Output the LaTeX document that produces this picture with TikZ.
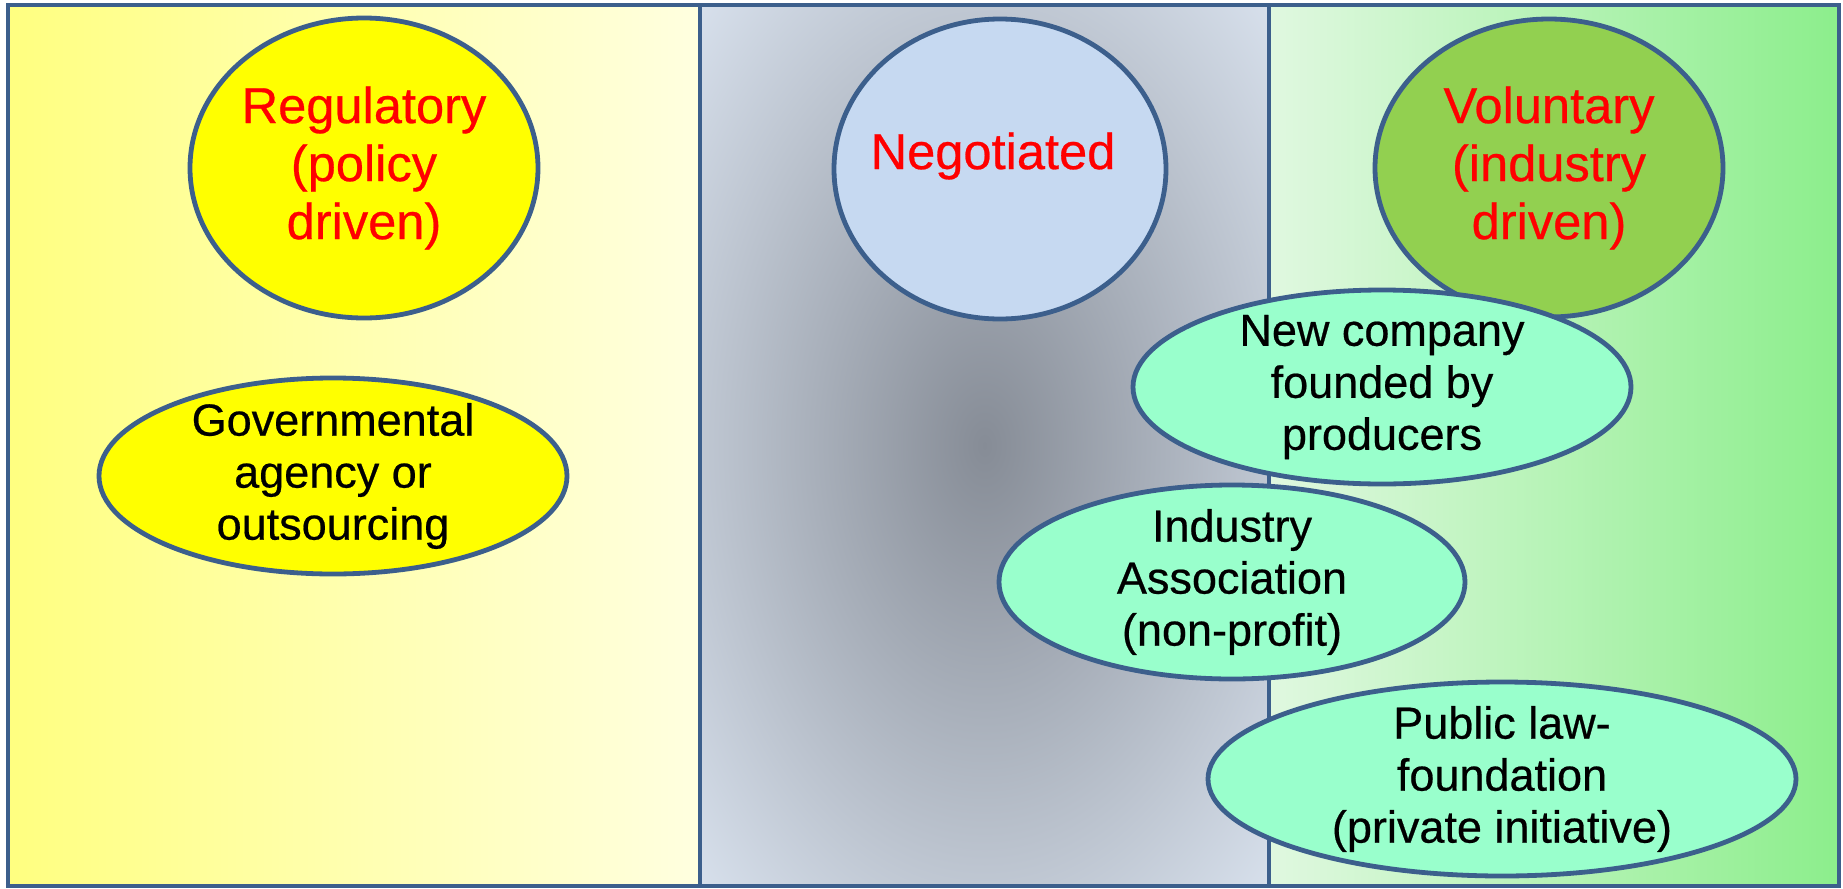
\documentclass[tikz,border=0pt]{standalone}
\usepackage{fontspec}
\setmainfont{Liberation Sans}
\newfontfamily\ovalfont{Liberation Sans}[FakeBold=0.5]
\usetikzlibrary{shapes.geometric, positioning}

\definecolor{edgeblue}{HTML}{3C5F8C}
\definecolor{ylwL}{HTML}{FFFF80}
\definecolor{ylwR}{HTML}{FFFFE0}
\definecolor{ylwfill}{HTML}{FFFF00}
\definecolor{grnL}{HTML}{E0F8E0}
\definecolor{grnR}{HTML}{8CEE8C}
\definecolor{negcore}{HTML}{868C96}
\definecolor{negout}{HTML}{DDE6F2}
\definecolor{negfill}{HTML}{C6D9F1}
\definecolor{volfill}{HTML}{92D050}
\definecolor{mint}{HTML}{99FFCC}
\definecolor{headred}{HTML}{FF0000}

\pgfdeclareradialshading{negshade}{\pgfpoint{0bp}{0bp}}{color(0bp)=(negcore); color(38bp)=(negout); color(50bp)=(negout)}

\begin{document}
\begin{tikzpicture}[
        x=0.5pt, y=-0.5pt,
        panel/.style={draw=edgeblue, line width=2pt},
        oval/.style={ellipse, draw=edgeblue, line width=2.4pt, inner sep=-10pt, align=center},
        head/.style={oval, text=headred, font=\ovalfont\fontsize{25.3}{29}\selectfont},
        body/.style={oval, fill=mint, font=\ovalfont\fontsize{22.5}{26}\selectfont}
    ]
    \useasboundingbox (0,0) rectangle (1843,889);

    % Panels
    \shadedraw [panel, left color=ylwL, right color=ylwR] (8,5) rectangle (700,886);
    \shadedraw [panel, shading=negshade] (700,5) rectangle (1269,886);
    \shadedraw [panel, left color=grnL, right color=grnR] (1269,5) rectangle (1839,886);

    % Headings
    \node (reg) [head, fill=ylwfill, minimum width=174pt, minimum height=150pt] at (364,168) {Regulatory\\(policy\\driven)};
    \node (neg) [head, fill=negfill, minimum width=166pt, minimum height=150pt,
        label={[text=headred, font=\ovalfont\fontsize{25.3}{29}\selectfont, xshift=-3.5pt, yshift=6.5pt]center:Negotiated}] at (1000,169) {};
    \node (vol) [head, fill=volfill, minimum width=174pt, minimum height=149pt] at (1549,168) {Voluntary\\(industry\\driven)};

    % Bodies
    \node (gov) [body, fill=ylwfill, minimum width=234pt, minimum height=98pt] at (333,476) {Governmental\\agency or\\outsourcing};
    \node (newco) [body, minimum width=249pt, minimum height=97pt] at (1382,387) {New company\\founded by\\producers};
    \node (assoc) [body, minimum width=233pt, minimum height=97pt] at (1232,582) {Industry\\Association\\(non-profit)};
    \node (pub) [body, minimum width=294pt, minimum height=97pt] at (1502,779) {Public law-\\foundation\\(private initiative)};

\end{tikzpicture}
\end{document}
